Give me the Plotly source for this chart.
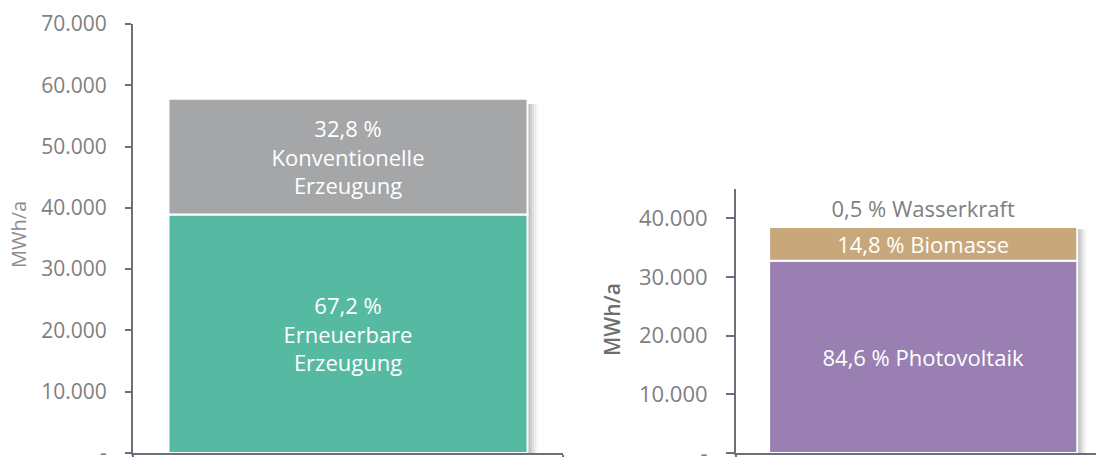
import plotly.graph_objects as go

# ---- data ----
left_category = ["Gesamt"]
left_series = ["Erneuerbare Erzeugung", "Konventionelle Erzeugung"]
left_values = [38900, 18900]
left_labels = ["67,2 %<br>Erneuerbare<br>Erzeugung", "32,8 %<br>Konventionelle<br>Erzeugung"]
left_colors = ["#55BAA1", "#A5A6A8"]

right_category = ["Erneuerbar"]
right_series = ["Photovoltaik", "Biomasse", "Wasserkraft"]
right_values = [32750, 5730, 190]
right_labels = ["84,6 % Photovoltaik", "14,8 % Biomasse", "0,5 % Wasserkraft"]
right_colors = ["#9A80B2", "#C8A87B", "#C8A87B"]

left_tickvals = [0, 10000, 20000, 30000, 40000, 50000, 60000, 70000]
left_ticktext = ["-", "10.000", "20.000", "30.000", "40.000", "50.000", "60.000", "70.000"]
right_tickvals = [0, 10000, 20000, 30000, 40000]
right_ticktext = ["-", "10.000", "20.000", "30.000", "40.000"]
y_title = "MWh/a"

FONT = "Open Sans"
AXIS_COLOR = "#6B717A"
TICK_COLOR = "#7F7F7F"

fig = go.Figure()

def add_stack(cats, values, labels, colors, xa, ya, width, textsize, last_outside=False):
    total = sum(values)
    # soft drop shadow on the right side
    for dx, op in [(0.005, 0.14), (0.010, 0.11), (0.015, 0.08), (0.020, 0.06), (0.025, 0.04)]:
        fig.add_trace(go.Bar(
            x=cats, y=[total * 0.985], base=[0], width=width, offset=-width / 2 + dx,
            marker=dict(color=f"rgba(60,60,60,{op})", line=dict(width=0)),
            xaxis=xa, yaxis=ya, showlegend=False, hoverinfo="skip"))
    base = 0
    n = len(values)
    for i, (v, lab, col) in enumerate(zip(values, labels, colors)):
        outside = last_outside and i == n - 1
        fig.add_trace(go.Bar(
            x=cats, y=[v], base=[base], width=width, offset=-width / 2,
            marker=dict(color=col, line=dict(color="white", width=2)),
            text=[lab], textposition="outside" if outside else "inside",
            insidetextanchor="middle", textangle=0, constraintext="none",
            insidetextfont=dict(color="white", size=textsize, family=FONT),
            outsidetextfont=dict(color=TICK_COLOR, size=textsize, family=FONT),
            cliponaxis=False,
            xaxis=xa, yaxis=ya, showlegend=False, hoverinfo="skip"))
        base += v

add_stack(left_category, left_values, left_labels, left_colors, "x", "y", 0.835, 22)
add_stack(right_category, right_values, right_labels, right_colors, "x2", "y2", 0.856, 22, last_outside=True)

W, H = 1096, 457
yb = (H - 453) / H

axis_common = dict(showline=True, linecolor=AXIS_COLOR, linewidth=2, showgrid=False,
                   zeroline=False, ticks="outside", tickcolor=AXIS_COLOR, tickwidth=2,
                   automargin=False, ticklabeloverflow="allow")

fig.update_layout(
    width=W, height=H, barmode="overlay",
    margin=dict(l=0, r=0, t=0, b=0, autoexpand=False),
    paper_bgcolor="white", plot_bgcolor="white",
    font=dict(family=FONT, color=TICK_COLOR),
    showlegend=False,
    xaxis=dict(domain=[133 / W, 563 / W], type="category", range=[-0.5, 0.5],
               showticklabels=False, anchor="y", ticklen=5, tickmode="array",
               tickvals=[-0.5, 0.5], **axis_common),
    yaxis=dict(domain=[yb, (H - 24) / H], range=[0, 70000], anchor="x",
               tickvals=left_tickvals, ticktext=left_ticktext, ticklen=6,
               tickfont=dict(size=21, color=TICK_COLOR, family=FONT),
               ticklabelstandoff=14, **axis_common),
    xaxis2=dict(domain=[736 / W, 1.0], type="category", range=[-0.52, 0.48],
                showticklabels=False, anchor="y2", ticklen=5, tickmode="array",
                tickvals=[-0.52], **axis_common),
    yaxis2=dict(domain=[yb, (H - 188.8) / H], range=[0, 45000], anchor="x2",
                tickvals=right_tickvals, ticktext=right_ticktext, ticklen=8,
                tickfont=dict(size=22, color=TICK_COLOR, family=FONT),
                ticklabelstandoff=14, **axis_common),
    annotations=[
        dict(text=y_title, xref="paper", yref="paper", x=18 / W, y=(H - 235) / H,
             textangle=-90, showarrow=False, xanchor="center", yanchor="middle",
             font=dict(size=20, color="#8C8C8C", family=FONT)),
        dict(text=y_title, xref="paper", yref="paper", x=612 / W, y=(H - 320) / H,
             textangle=-90, showarrow=False, xanchor="center", yanchor="middle",
             font=dict(size=21, color="#6E6E6E", family=FONT, weight=600)),
    ],
)

fig.write_html("out.html", config={"displayModeBar": False},
               post_script="document.body.style.margin='0';document.body.style.overflow='hidden';")
